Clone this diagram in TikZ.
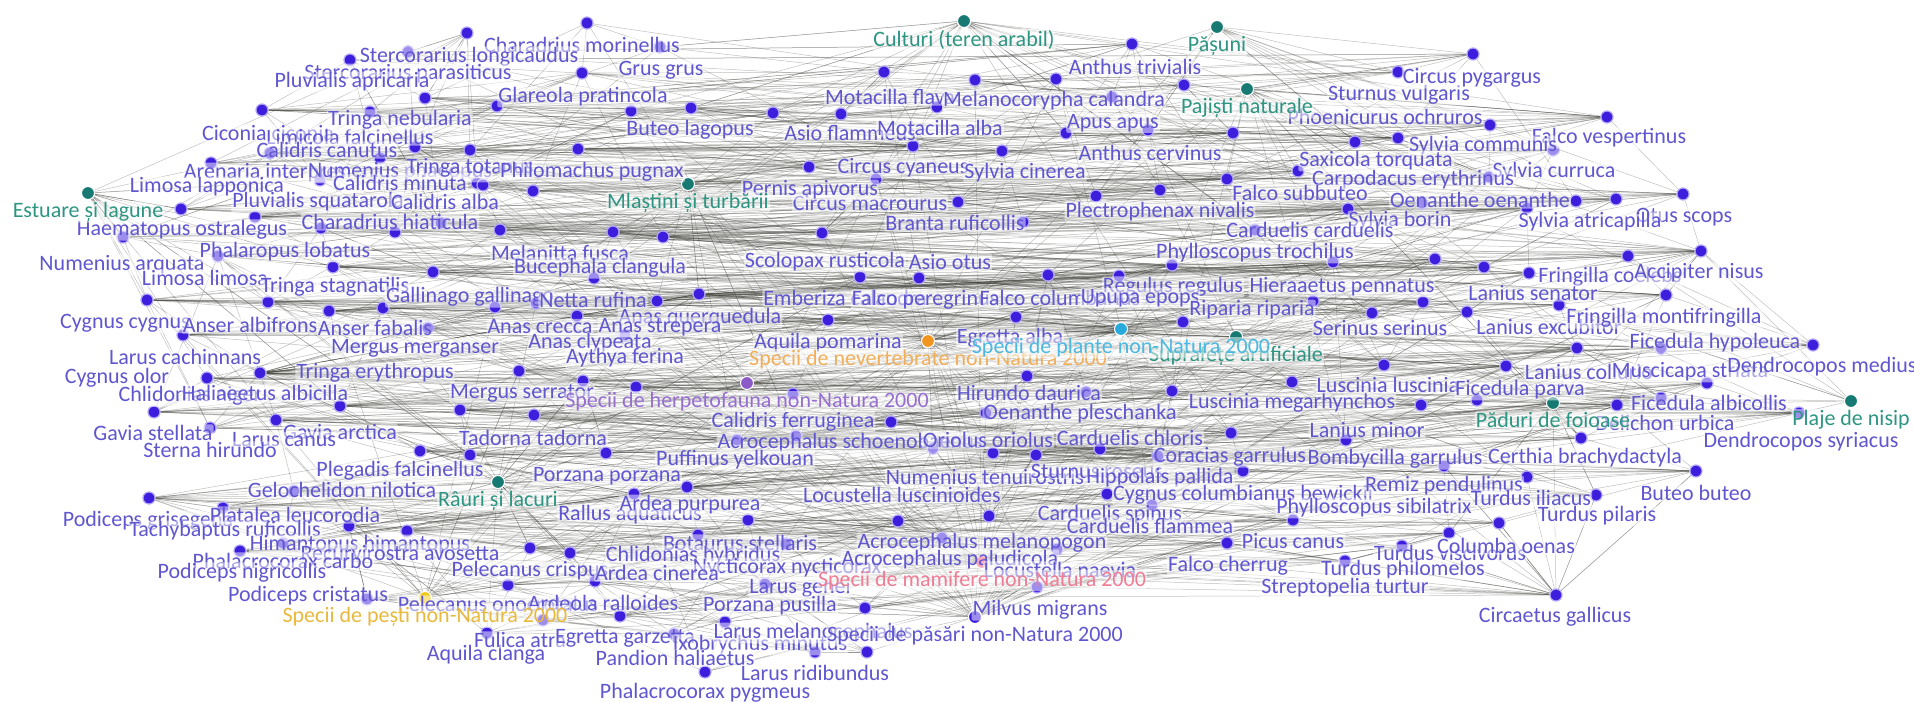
\documentclass[tikz,border=0pt]{standalone}
\usepackage{fontspec}
\setmainfont{Carlito}
\usetikzlibrary{positioning,backgrounds}
\definecolor{birddot}{RGB}{60,30,220}
\definecolor{birdring}{RGB}{175,165,248}
\definecolor{birdtext}{RGB}{96,86,208}
\definecolor{habdot}{RGB}{22,122,115}
\definecolor{habtext}{RGB}{45,150,130}
\definecolor{nevdot}{RGB}{240,150,30}
\definecolor{nevtext}{RGB}{242,175,90}
\definecolor{pladot}{RGB}{40,170,220}
\definecolor{platext}{RGB}{75,185,225}
\definecolor{herdot}{RGB}{140,90,200}
\definecolor{hertext}{RGB}{150,110,210}
\definecolor{mamdot}{RGB}{235,80,120}
\definecolor{mamtext}{RGB}{240,125,150}
\definecolor{pesdot}{RGB}{240,200,20}
\definecolor{pestext}{RGB}{232,185,60}
\definecolor{edgegray}{RGB}{62,62,55}

% species dots (pixel positions of the layout)
\def\birdpos{467/33, 408/52, 350/60, 425/98, 262/110, 370/112, 415/147, 470/150,
  270/153, 380/158, 211/163, 320/180, 477/183, 181/209, 255/217, 321/228, 395/232,
  441/223, 123/237,
  587/23, 660/47, 582/73, 497/106, 631/111, 691/108, 773/113, 841/114, 884/72,
  937/107, 913/146, 578/149, 809/167, 876/179, 533/191, 483/185, 500/230, 613/232,
  663/237, 822/233, 958/202,
  975/80, 1056/79, 1112/97, 1184/85, 1398/72, 1066/133, 1148/130, 1233/133,
  1355/142, 1398/138, 1002/151, 1298/171, 1227/179, 1096/196, 1160/190, 1348/209,
  1422/203, 1023/222, 1255/230, 1132/44,
  1473/54, 1607/117, 1490/125, 1553/150, 1489/177, 1576/201, 1616/199, 1527/208,
  1683/194,
  218/256, 333/267, 433/272, 147/300, 268/302, 329/311, 383/308, 428/328, 183/335,
  260/373, 207/378, 340/406, 460/410, 154/412, 210/428, 276/420, 420/451, 470/455,
  594/278, 860/277, 919/278, 495/307, 536/303, 657/301, 699/294, 577/316, 625/335,
  828/320, 519/371, 583/381, 636/387, 793/394, 534/415, 891/422, 737/440, 796/436,
  933/448, 606/453,
  1048/275, 1119/276, 1172/265, 1333/262, 1435/259, 1016/317, 1183/322, 1313/301,
  1372/313, 1423/302, 1027/376, 1086/392, 1172/391, 1292/382, 1384/365, 1421/405,
  986/413, 1231/433, 1346/440, 993/453, 1036/455, 1100/449, 1158/456,
  1484/267, 1529/273, 1628/256, 1701/251, 1467/312, 1559/305, 1666/295, 1577/348,
  1661/348, 1813/345, 1506/366, 1707/383, 1477/400, 1617/405, 1661/398, 1799/413,
  1581/438,
  149/498, 223/508, 294/491, 349/526, 407/531, 283/543, 240/551, 367/599,
  634/494, 687/487, 748/520, 698/535, 786/544, 898/521, 942/538, 530/548, 570/553,
  595/581, 508/585, 765/584, 620/616, 543/620, 487/633, 725/622, 674/634, 865/608,
  815/652, 867/652, 705/672,
  1243/471, 1107/494, 1152/505, 989/516, 1293/520, 1057/549, 1227/543, 1345/561,
  1402/546, 1037/587,
  1444/466, 1527/477, 1596/495, 1696/471, 1499/523, 1449/533, 1556/595}

\begin{document}
\begin{tikzpicture}[x=1pt, y=-1pt,
    font=\fontsize{22}{24}\selectfont,
    dot/.style={circle, inner sep=0pt, minimum size=12pt, fill=birddot,
                draw=birdring, line width=1.2pt},
    hub/.style={dot, minimum size=13pt, draw=white, line width=1pt},
    lab/.style={text=birdtext, fill=white, fill opacity=0.5, text opacity=1,
                inner sep=1pt, rounded corners=2pt},
    edge/.style={draw=edgegray, line width=0.5pt, draw opacity=0.32}
  ]
  \useasboundingbox (0,0) rectangle (1914,703);

  % --- species -----------------------------------------------------------
  \foreach \x/\y [count=\i] in \birdpos {
    \node[dot] (n\i) at (\x,\y) {};
    \expandafter\xdef\csname by\i\endcsname{\y}
    \xdef\ndots{\i}
  }

  % --- habitats ----------------------------------------------------------
  \node[hub, fill=habdot] (estuare)   at (88,193)   {};
  \node[hub, fill=habdot] (culturi)   at (964,21)   {};
  \node[hub, fill=habdot] (pasuni)    at (1217,27)  {};
  \node[hub, fill=habdot] (pajisti)   at (1247,89)  {};
  \node[hub, fill=habdot] (mlastini)  at (688,184)  {};
  \node[hub, fill=habdot] (suprafete) at (1236,337) {};
  \node[hub, fill=habdot] (paduri)    at (1553,403) {};
  \node[hub, fill=habdot] (plaje)     at (1851,401) {};
  \node[hub, fill=habdot] (rauri)     at (498,482)  {};

  % --- species groups ----------------------------------------------------
  \node[hub, fill=nevdot]  (nevert)  at (928,341) {};
  \node[hub, fill=pladot]  (plante)  at (1121,329) {};
  \node[hub, fill=herdot]  (herpeto) at (747,383) {};
  \node[hub, fill=mamdot]  (mamif)   at (982,562) {};
  \node[hub, fill=pesdot]  (pesti)   at (425,598) {};
  \node[hub, fill=birddot] (pasari)  at (975,617) {};

  % --- links -------------------------------------------------------------
  \begin{pgfonlayer}{background}
    \fill[white] (0,0) rectangle (1914,703);
    \pgfmathsetseed{7}
    \foreach \i in {1,...,\ndots} {
      \edef\yi{\csname by\i\endcsname}
      % neighbours in the same region
      \foreach \k in {1,2} {
        \pgfmathrandominteger{\d}{-20}{20}
        \pgfmathtruncatemacro{\j}{max(1,min(\ndots,\i+\d))}
        \draw[edge] (n\i) -- (n\j);
      }
      % long links within the same height band
      \foreach \k in {1,...,22} {
        \pgfmathrandominteger{\j}{1}{\ndots}
        \edef\yj{\csname by\j\endcsname}
        \pgfmathtruncatemacro{\near}{abs(\yi-\yj)<75}
        \ifnum\near=1 \draw[edge] (n\i) -- (n\j); \fi
      }
    }
    \foreach \h/\lo/\hi/\m in {estuare/1/19/10, estuare/70/87/12,
        culturi/20/69/22, culturi/88/130/8, pasuni/41/69/15, pajisti/41/69/15,
        pajisti/108/147/10, mlastini/1/107/25, suprafete/41/193/25,
        paduri/108/193/25, plaje/131/147/8, rauri/70/107/15, rauri/148/176/15,
        nevert/1/193/40, plante/1/193/40, herpeto/70/176/25, mamif/1/193/30,
        pesti/70/176/20, pasari/1/193/40, n79/88/147/30} {
      \foreach \k in {1,...,\m} {
        \pgfmathrandominteger{\j}{\lo}{\hi}
        \draw[edge] (\h) -- (n\j);
      }
    }
  \end{pgfonlayer}

  % --- species names -----------------------------------------------------
  \foreach \x/\y/\t [count=\i] in {582/45/Charadrius morinellus,
      469/57/Stercorarius longicaudus, 408/74/Stercorarius parasiticus,
      661/70/Grus grus, 352/82/Pluvialis apricaria, 583/97/Glareola pratincola,
      268/133/Ciconia ciconia, 350/137/Limicola falcinellus,
      400/120/Tringa nebularia, 327/150/Calidris canutus,
      265/173/Arenaria interpres, 400/172/Numenius phaeopus,
      207/187/Limosa lapponica, 400/183/Calidris minuta,
      182/230/Haematopus ostralegus, 318/202/Pluvialis squatarola,
      445/202/Calidris alba, 390/222/Charadrius hiaticula,
      690/130/Buteo lagopus, 850/133/Asio flammeus, 470/168/Tringa totanus,
      592/172/Philomachus pugnax, 890/97/Motacilla flava,
      1054/101/Melanocorypha calandra, 940/128/Motacilla alba,
      1113/123/Apus apus, 903/168/Circus cyaneus, 1025/173/Sylvia cinerea,
      1135/67/Anthus trivialis, 1399/95/Sturnus vulgaris,
      1385/117/Phoenicurus ochruros, 1472/78/Circus pygargus,
      1609/138/Falco vespertinus, 1483/146/Sylvia communis,
      1554/172/Sylvia curruca, 1376/161/Saxicola torquata,
      1413/180/Carpodacus erythrinus, 1480/200/Oenanthe oenanthe,
      1684/217/Otus scops, 1400/221/Sylvia borin, 1590/222/Sylvia atricapilla,
      1300/193/Falco subbuteo, 1160/212/Plectrophenax nivalis,
      1310/230/Carduelis carduelis, 955/223/Branta ruficollis,
      870/203/Circus macrourus, 810/190/Pernis apivorus,
      1150/153/Anthus cervinus,
      122/265/Numenius arquata, 285/252/Phalaropus lobatus,
      205/278/Limosa limosa, 335/287/Tringa stagnatilis,
      470/297/Gallinago gallinago, 125/323/Cygnus cygnus,
      250/325/Anser albifrons, 375/328/Anser fabalis,
      415/348/Mergus merganser, 185/357/Larus cachinnans, 117/378/Cygnus olor,
      375/373/Tringa erythropus, 190/396/Chlidonias niger,
      265/393/Haliaeetus albicilla, 153/433/Gavia stellata,
      340/432/Gavia arctica, 533/438/Tadorna tadorna, 284/440/Larus canus,
      210/450/Sterna hirundo, 522/393/Mergus serrator,
      560/253/Melanitta fusca, 600/268/Bucephala clangula,
      825/262/Scolopax rusticola, 950/262/Asio otus, 593/300/Netta rufina,
      700/318/Anas querquedula, 540/327/Anas crecca, 660/327/Anas strepera,
      590/343/Anas clypeata, 625/358/Aythya ferina,
      845/298/Emberiza calandra, 925/300/Falco peregrinus,
      1060/298/Falco columbarius, 828/343/Aquila pomarina,
      793/422/Calidris ferruginea, 850/443/Acrocephalus schoenobaenus,
      735/460/Puffinus yelkouan, 1255/253/Phylloscopus trochilus,
      1173/287/Regulus regulus, 1342/287/Hieraaetus pennatus,
      1140/298/Upupa epops, 1252/310/Riparia riparia,
      1380/328/Serinus serinus, 1010/338/Egretta alba,
      1029/393/Hirundo daurica, 1080/414/Oenanthe pleschanka,
      1292/403/Luscinia megarhynchos, 1388/385/Luscinia luscinia,
      988/440/Oriolus oriolus, 1130/438/Carduelis chloris,
      1230/457/Coracias garrulus, 1367/430/Lanius minor,
      1395/459/Bombycilla garrulus,
      1610/277/Fringilla coelebs, 1699/273/Accipiter nisus,
      1533/293/Lanius senator, 1549/327/Lanius excubitor,
      1664/318/Fringilla montifringilla, 1715/343/Ficedula hypoleuca,
      1589/372/Lanius collurio, 1690/372/Muscicapa striata,
      1822/367/Dendrocopos medius, 1520/390/Ficedula parva,
      1709/403/Ficedula albicollis, 1665/423/Delichon urbica,
      1801/442/Dendrocopos syriacus, 1585/458/Certhia brachydactyla,
      148/521/Podiceps grisegena, 295/515/Platalea leucorodia,
      225/531/Tachybaptus ruficollis, 342/490/Gelochelidon nilotica,
      400/471/Plegadis falcinellus, 360/545/Himantopus himantopus,
      400/553/Recurvirostra avosetta, 283/561/Phalacrocorax carbo,
      242/573/Podiceps nigricollis, 308/596/Podiceps cristatus,
      530/571/Pelecanus crispus, 498/604/Pelecanus onocrotalus,
      603/603/Ardeola ralloides, 486/655/Aquila clanga, 520/640/Fulica atra,
      625/638/Egretta garzetta, 760/645/Ixobrychus minutus,
      607/476/Porzana porzana, 902/495/Locustella luscinioides,
      985/477/Numenius tenuirostris, 630/515/Rallus aquaticus,
      690/505/Ardea purpurea, 740/543/Botaurus stellaris,
      982/543/Acrocephalus melanopogon, 693/556/Chlidonias hybridus,
      787/568/Nycticorax nycticorax, 950/560/Acrocephalus paludicola,
      657/573/Ardea cinerea, 800/588/Larus genei, 770/606/Porzana pusilla,
      813/633/Larus melanocephalus, 675/658/Pandion haliaetus,
      815/673/Larus ridibundus, 705/693/Phalacrocorax pygmeus,
      1097/471/Sturnus roseus, 1160/478/Hippolais pallida,
      1243/495/Cygnus columbianus bewickii, 1444/486/Remiz pendulinus,
      1110/515/Carduelis spinus, 1150/526/Carduelis flammea,
      1374/508/Phylloscopus sibilatrix, 1293/541/Picus canus,
      1228/566/Falco cherrug, 1403/570/Turdus philomelos,
      1450/553/Turdus viscivorus, 1345/588/Streptopelia turtur,
      1060/570/Locustella naevia, 1040/610/Milvus migrans,
      1696/493/Buteo buteo, 1531/498/Turdus iliacus, 1597/516/Turdus pilaris,
      1506/546/Columba oenas, 1555/617/Circaetus gallicus} {
    \node[lab] (l\i) at (\x,\y) {\t};
  }

  % --- habitat and group names -------------------------------------------
  \node[lab, text=habtext, below=1pt of estuare]   (estuare-l)   {Estuare și lagune};
  \node[lab, text=habtext, below=1pt of culturi]   (culturi-l)   {Culturi (teren arabil)};
  \node[lab, text=habtext, below=1pt of pasuni]    (pasuni-l)    {Pășuni};
  \node[lab, text=habtext, below=1pt of pajisti]   (pajisti-l)   {Pajiști naturale};
  \node[lab, text=habtext, below=1pt of mlastini]  (mlastini-l)  {Mlaștini și turbării};
  \node[lab, text=habtext, below=1pt of suprafete] (suprafete-l) {Suprafețe artificiale};
  \node[lab, text=habtext, below=1pt of paduri]    (paduri-l)    {Păduri de foioase};
  \node[lab, text=habtext, below=1pt of plaje]     (plaje-l)     {Plaje de nisip};
  \node[lab, text=habtext, below=1pt of rauri]     (rauri-l)     {Râuri și lacuri};
  \node[lab, text=nevtext, below=1pt of nevert]  (nevert-l)  {Specii de nevertebrate non-Natura 2000};
  \node[lab, text=platext, below=1pt of plante]  (plante-l)  {Specii de plante non-Natura 2000};
  \node[lab, text=hertext, below=1pt of herpeto] (herpeto-l) {Specii de herpetofauna non-Natura 2000};
  \node[lab, text=mamtext, below=1pt of mamif]   (mamif-l)   {Specii de mamifere non-Natura 2000};
  \node[lab, text=pestext, below=1pt of pesti]   (pesti-l)   {Specii de pești non-Natura 2000};
  \node[lab, below=1pt of pasari]                (pasari-l)  {Specii de păsări non-Natura 2000};
\end{tikzpicture}
\end{document}
